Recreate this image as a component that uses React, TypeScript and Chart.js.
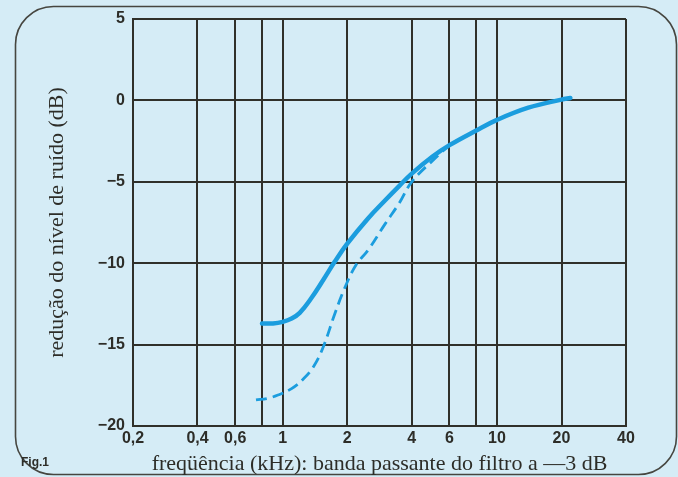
import React, { useEffect, useRef } from 'react';
import { Chart, registerables } from 'chart.js';

Chart.register(...registerables);

// ---- data ----
const xTickValues = [0.2, 0.4, 0.6, 0.8, 1, 2, 4, 6, 8, 10, 20, 40];
const xTickLabels = ['0,2', '0,4', '0,6', '', '1', '2', '4', '6', '', '10', '20', '40'];
const yTickValues = [-20, -15, -10, -5, 0, 5];

const solidFreq = [0.8, 0.9, 1.0, 1.1, 1.2, 1.35, 1.55, 1.75, 2, 2.5, 3, 3.5, 4, 5, 6, 8, 10, 14, 20, 22];
const solidDb = [-13.7, -13.7, -13.6, -13.4, -13.05, -12.2, -11.0, -9.9, -8.8, -7.25, -6.15, -5.25, -4.5, -3.45, -2.75, -1.85, -1.2, -0.45, 0.05, 0.15];

const dashedFreq = [0.75, 0.85, 0.95, 1.1, 1.25, 1.4, 1.55, 1.75, 1.95, 2.2, 2.5, 3, 3.5, 4, 5, 6];
const dashedDb = [-18.4, -18.3, -18.1, -17.7, -17.1, -16.3, -15.1, -13.1, -11.5, -10.1, -9.2, -7.6, -6.3, -5.0, -3.7, -2.75];

const BG = 'rgb(213,236,246)';
const GRID = 'rgb(48,48,42)';
const BLUE = 'rgb(27,157,222)';
const TEXT = 'rgb(45,45,40)';
const TICK_FONT = { family: '"Liberation Sans", Arial, sans-serif', size: 16, weight: 'bold' as const };
const TITLE_FONT = { family: '"Liberation Serif", "Times New Roman", serif', size: 22 };

const bgPlugin = {
  id: 'bgPlugin',
  beforeDraw(chart: any) {
    const { ctx, width, height } = chart;
    ctx.save();
    ctx.fillStyle = BG;
    ctx.fillRect(0, 0, width, height);
    ctx.beginPath();
    ctx.roundRect(15.5, 6.5, 661, 468, 38);
    ctx.strokeStyle = 'rgb(70,70,64)';
    ctx.lineWidth = 1.6;
    ctx.stroke();
    ctx.font = 'bold 12px "Liberation Sans", Arial, sans-serif';
    ctx.fillStyle = TEXT;
    ctx.textBaseline = 'middle';
    ctx.textAlign = 'left';
    ctx.fillText('Fig.1', 21, 463);
    ctx.restore();
  },
};

export default function App() {
  const ref = useRef<HTMLCanvasElement | null>(null);

  useEffect(() => {
    if (!ref.current) return;
    const chart = new Chart(ref.current, {
      type: 'line',
      data: {
        datasets: [
          {
            data: solidFreq.map((x, i) => ({ x, y: solidDb[i] })),
            borderColor: BLUE,
            borderWidth: 4.5,
            pointRadius: 0,
            tension: 0.4,
            borderCapStyle: 'round',
            fill: false,
          },
          {
            data: dashedFreq.map((x, i) => ({ x, y: dashedDb[i] })),
            borderColor: BLUE,
            borderWidth: 2.8,
            borderDash: [11, 6],
            pointRadius: 0,
            tension: 0.4,
            fill: false,
          },
        ],
      },
      options: {
        animation: false,
        responsive: false,
        devicePixelRatio: 1,
        layout: { padding: { left: 0, right: 52, top: 19, bottom: 0 } },
        plugins: { legend: { display: false }, tooltip: { enabled: false } },
        scales: {
          x: {
            type: 'logarithmic',
            min: 0.2,
            max: 40,
            afterBuildTicks: (s: any) => {
              s.ticks = xTickValues.map((v) => ({ value: v }));
            },
            afterFit: (s: any) => {
              s.height = 51;
            },
            ticks: {
              autoSkip: false,
              maxRotation: 0,
              padding: 3,
              font: TICK_FONT,
              color: TEXT,
              callback: (v: any) => {
                const i = xTickValues.findIndex((t) => Math.abs(t - Number(v)) < 1e-9);
                return i >= 0 ? xTickLabels[i] : '';
              },
            },
            grid: { color: GRID, lineWidth: 2, drawTicks: false },
            border: { color: GRID, width: 2 },
            title: {
              display: true,
              text: 'freqüência (kHz): banda passante do filtro a —3 dB',
              font: TITLE_FONT,
              color: TEXT,
              padding: { top: 0, bottom: 0 },
            },
          },
          y: {
            type: 'linear',
            min: -20,
            max: 5,
            afterBuildTicks: (s: any) => {
              s.ticks = yTickValues.map((v) => ({ value: v }));
            },
            afterFit: (s: any) => {
              s.width = 133;
            },
            ticks: {
              padding: 8,
              font: TICK_FONT,
              color: TEXT,
              callback: (v: any) => (Number(v) < 0 ? '−' + Math.abs(Number(v)) : String(v)),
            },
            grid: { color: GRID, lineWidth: 2, drawTicks: false },
            border: { color: GRID, width: 2 },
            title: {
              display: true,
              text: 'redução do nível de ruído (dB)',
              font: TITLE_FONT,
              color: TEXT,
              padding: { top: 44, bottom: 0 },
            },
          },
        },
      },
      plugins: [bgPlugin],
    } as any);
    return () => chart.destroy();
  }, []);

  return (
    <div style={{ position: 'absolute', left: 0, top: 0, width: 678, height: 477 }}>
      <canvas ref={ref} width={678} height={477} style={{ width: 678, height: 477, display: 'block' }} />
    </div>
  );
}
